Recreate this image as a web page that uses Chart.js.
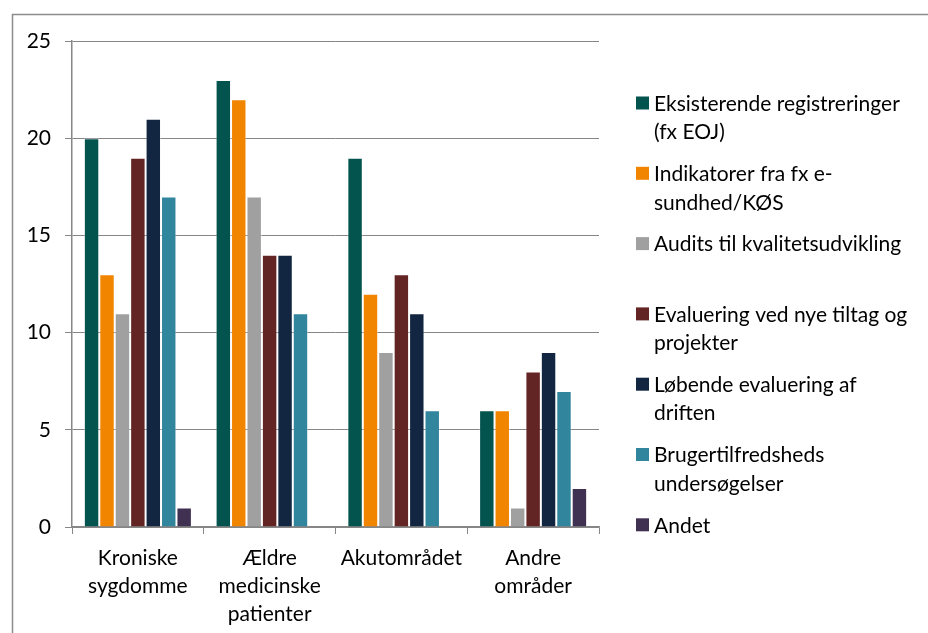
<!DOCTYPE html>
<html>
<head>
<meta charset="utf-8">
<script src="https://cdn.jsdelivr.net/npm/chart.js@4.4.1/dist/chart.umd.min.js"></script>
<style>
  html, body { margin: 0; padding: 0; background: #ffffff; overflow: hidden; }
  #wrap { position: relative; width: 928px; height: 633px; }
</style>
</head>
<body>
<div id="wrap"><canvas id="c" width="928" height="633"></canvas></div>
<script>
// Område-kategorier (x-aksen), skrevet i linjer
const categories = [
  ['Kroniske', 'sygdomme'],
  ['Ældre', 'medicinske', 'patienter'],
  ['Akutområdet'],
  ['Andre', 'områder']
];

// Serienavne, som de står i forklaringen (linjeskift medtaget)
const seriesNames = [
  ['Eksisterende registreringer', '(fx EOJ)'],
  ['Indikatorer fra fx e-', 'sundhed/KØS'],
  ['Audits til kvalitetsudvikling', ''],
  ['Evaluering ved nye tiltag og', 'projekter'],
  ['Løbende evaluering af', 'driften'],
  ['Brugertilfredsheds', 'undersøgelser'],
  ['Andet']
];

const seriesColors = ['#03534F', '#F28500', '#A0A0A0', '#632523', '#122641', '#31859C', '#403152'];

// Antal pr. kategori for hver serie
const eksisterende = [20, 23, 19, 6];
const indikatorer  = [13, 22, 12, 6];
const audits       = [11, 17, 9, 1];
const evalNye      = [19, 14, 13, 8];
const loebende     = [21, 14, 11, 9];
const bruger       = [17, 11, 6, 7];
const andet        = [1, 0, 0, 2];

const yTicks = [0, 5, 10, 15, 20, 25];

const seriesValues = [eksisterende, indikatorer, audits, evalNye, loebende, bruger, andet];

const FONT = 'Lato, "Open Sans", sans-serif';
const FONT_SIZE = 21;

const datasets = seriesValues.map((vals, i) => ({
  label: seriesNames[i].join(' ').trim(),
  data: vals,
  backgroundColor: seriesColors[i],
  borderColor: 'rgba(255,255,255,0.35)',
  borderWidth: 1,
  categoryPercentage: 0.82,
  barPercentage: 1.0
}));

// Ramme om diagrammet og forklaring til højre
const framePlugin = {
  id: 'frame',
  beforeDraw(chart) {
    const ctx = chart.ctx;
    ctx.save();
    ctx.fillStyle = '#ffffff';
    ctx.fillRect(0, 0, chart.width, chart.height);
    ctx.strokeStyle = '#8c8c8c';
    ctx.lineWidth = 1.5;
    ctx.strokeRect(12.5, 14.5, 1000, 1000);
    ctx.restore();
  },
  afterDraw(chart) {
    const ctx = chart.ctx;
    ctx.save();
    ctx.font = FONT_SIZE + 'px ' + FONT;
    ctx.textBaseline = 'middle';
    ctx.fillStyle = '#000000';
    const x0 = 636, step = 70.3, lineH = 28.5;
    chart.data.datasets.forEach((ds, i) => {
      const y = 103 + i * step;
      ctx.fillStyle = ds.backgroundColor;
      ctx.fillRect(x0, y - 6.5, 13, 13);
      ctx.fillStyle = '#000000';
      seriesNames[i].forEach((line, j) => {
        ctx.fillText(line, x0 + 18, y + j * lineH + 1);
      });
    });
    ctx.restore();
  }
};

new Chart(document.getElementById('c'), {
  type: 'bar',
  data: { labels: categories, datasets },
  options: {
    responsive: false,
    animation: false,
    devicePixelRatio: 1,
    layout: { padding: { left: 0, top: 41, right: 329, bottom: 0 } },
    plugins: {
      legend: { display: false },
      tooltip: { enabled: false }
    },
    scales: {
      x: {
        offset: true,
        grid: {
          offset: true,
          drawOnChartArea: false,
          drawTicks: true,
          tickLength: 7,
          color: '#868686',
          lineWidth: 1
        },
        border: { color: '#868686', width: 1.5 },
        ticks: {
          color: '#000000',
          font: { family: FONT, size: FONT_SIZE, lineHeight: 1.33 },
          padding: 10,
          maxRotation: 0,
          autoSkip: false
        },
        afterFit(s) { s.height = 633 - 527; }
      },
      y: {
        min: 0,
        max: 25,
        afterBuildTicks(s) { s.ticks = yTicks.map(v => ({ value: v })); },
        grid: {
          color: '#868686',
          lineWidth: 1,
          tickLength: 7,
          drawTicks: true
        },
        border: { color: '#868686', width: 1.5 },
        ticks: {
          color: '#000000',
          font: { family: FONT, size: FONT_SIZE },
          padding: 14
        },
        afterFit(s) { s.width = 72; }
      }
    }
  },
  plugins: [framePlugin]
});
</script>
</body>
</html>
